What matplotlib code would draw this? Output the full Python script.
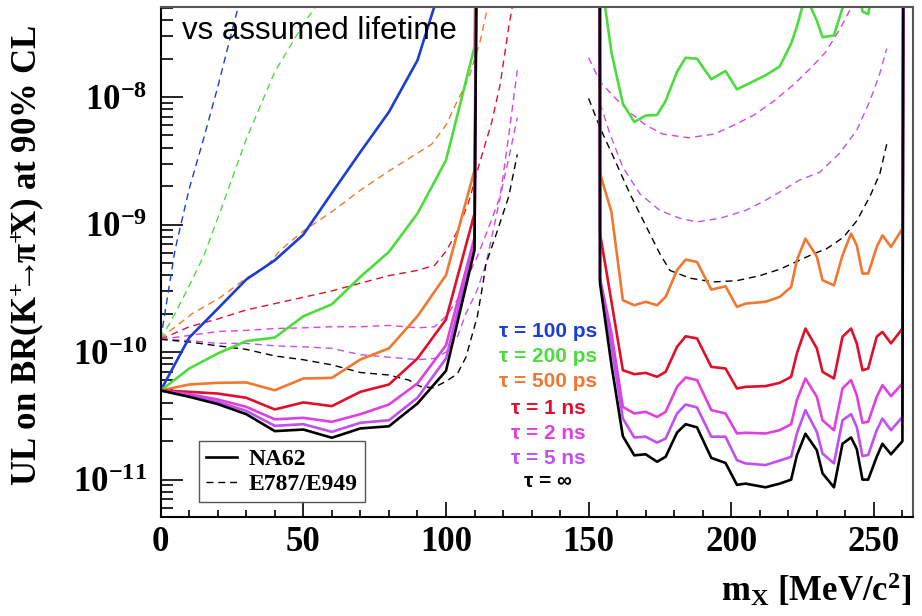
import matplotlib
matplotlib.use("Agg")
import matplotlib.pyplot as plt
from matplotlib.ticker import LogLocator, MultipleLocator, NullFormatter, FixedLocator

plt.rcParams['font.family'] = ['Liberation Serif', 'DejaVu Serif']
plt.rcParams['font.weight'] = 'bold'
plt.rcParams['mathtext.fontset'] = 'dejavuserif'
plt.rcParams['mathtext.default'] = 'regular'

# ---- NA62 upper limits, below the pi0 gap (1e-6 = curve leaves the frame) ----
x_left = [0, 10, 20, 30, 40, 50, 60, 70, 80, 90, 100, 110, 111]
ul_100ps_left = [5.0e-11, 1.30e-10, 2.19e-10, 3.71e-10, 5.25e-10, 8.34e-10, 1.77e-9, 3.71e-9, 7.64e-9, 1.94e-8, 1e-7, 1e-6, 1e-6]
ul_200ps_left = [5.0e-11, 7.43e-11, 9.75e-11, 1.22e-10, 1.30e-10, 1.91e-10, 2.37e-10, 3.89e-10, 6.11e-10, 1.22e-9, 3.19e-9, 2.47e-8, 1e-6]
ul_500ps_left = [5.0e-11, 5.57e-11, 5.74e-11, 5.78e-11, 5.02e-11, 6.21e-11, 6.28e-11, 8.75e-11, 1.07e-10, 1.91e-10, 4.01e-10, 2.67e-9, 1e-6]
ul_1ns_left = [5.0e-11, 4.88e-11, 4.73e-11, 4.38e-11, 3.55e-11, 4.03e-11, 3.77e-11, 4.88e-11, 5.57e-11, 8.91e-11, 1.80e-10, 1.22e-9, 1e-6]
ul_2ns_left = [5.0e-11, 4.68e-11, 4.25e-11, 3.72e-11, 2.97e-11, 3.05e-11, 2.84e-11, 3.26e-11, 3.88e-11, 5.68e-11, 1.13e-10, 7.9e-10, 1e-6]
ul_5ns_left = [5.0e-11, 4.54e-11, 4.07e-11, 3.46e-11, 2.64e-11, 2.72e-11, 2.37e-11, 2.79e-11, 2.92e-11, 4.38e-11, 8.91e-11, 7.1e-10, 1e-6]
ul_inf_left = [5.0e-11, 4.46e-11, 3.91e-11, 3.26e-11, 2.40e-11, 2.47e-11, 2.13e-11, 2.52e-11, 2.62e-11, 3.95e-11, 7.13e-11, 6.3e-10, 1e-6]

# ---- NA62 upper limits, above the pi0 gap ----
x_right = [153.9, 154, 158, 162, 166, 170, 174, 177, 181, 184, 188, 193, 198, 202, 205, 212,
           217, 221, 223, 226, 230, 232, 236, 239, 242, 244, 246, 248, 251, 253, 256, 260, 260.4]
ul_200ps_right = [1e-6, 1e-7, 2.24e-8, 8.9e-9, 6.37e-9, 7.16e-9, 7.24e-9, 9.33e-9, 1.58e-8, 2.03e-8, 2.0e-8,
                  1.38e-8, 1.6e-8, 1.15e-8, 1.24e-8, 1.48e-8, 1.74e-8, 2.63e-8, 3.55e-8, 6.3e-8, 3.98e-8,
                  2.95e-8, 3.04e-8, 5.0e-8, 1e-7, 1e-7, 4.68e-8, 4.47e-8, 1e-7, 1e-7, 1e-7, 1e-7, 1e-6]
ul_500ps_right = [1e-6, 2.51e-9, 1.26e-9, 2.55e-10, 2.33e-10, 2.48e-10, 2.33e-10, 2.71e-10, 4.39e-10, 5.31e-10,
                  5.09e-10, 3.09e-10, 3.28e-10, 2.26e-10, 2.40e-10, 2.48e-10, 2.71e-10, 3.24e-10, 5.25e-10,
                  7.76e-10, 5.62e-10, 3.66e-10, 3.34e-10, 5.74e-10, 8.49e-10, 6.89e-10, 4.13e-10, 4.13e-10,
                  6.68e-10, 8.24e-10, 6.68e-10, 9.29e-10, 1e-6]
ul_1ns_right = [1e-6, 8.5e-10, 2.5e-10, 7.21e-11, 6.71e-11, 6.87e-11, 6.40e-11, 7.00e-11, 1.10e-10, 1.33e-10,
                1.28e-10, 7.66e-11, 7.43e-11, 5.18e-11, 5.34e-11, 5.41e-11, 5.74e-11, 6.40e-11, 9.75e-11,
                1.53e-10, 1.07e-10, 7.00e-11, 6.21e-11, 1.32e-10, 1.53e-10, 1.17e-10, 7.21e-11, 7.43e-11,
                1.32e-10, 1.44e-10, 1.17e-10, 1.53e-10, 1e-6]
ul_2ns_right = [1e-6, 3.78e-10, 1.41e-10, 3.72e-11, 3.30e-11, 3.40e-11, 3.10e-11, 3.40e-11, 5.34e-11, 6.32e-11,
                6.03e-11, 3.51e-11, 3.30e-11, 2.30e-11, 2.33e-11, 2.30e-11, 2.44e-11, 2.72e-11, 4.20e-11,
                6.21e-11, 4.46e-11, 2.92e-11, 2.44e-11, 5.19e-11, 6.03e-11, 4.59e-11, 2.79e-11, 2.84e-11,
                4.46e-11, 5.51e-11, 4.51e-11, 5.68e-11, 1e-6]
ul_5ns_right = [1e-6, 3.66e-10, 1.12e-10, 3.02e-11, 2.14e-11, 2.17e-11, 1.95e-11, 2.10e-11, 3.30e-11, 3.88e-11,
                3.68e-11, 2.17e-11, 2.17e-11, 1.42e-11, 1.34e-11, 1.30e-11, 1.41e-11, 1.51e-11, 2.30e-11,
                3.51e-11, 2.37e-11, 1.60e-11, 1.34e-11, 2.92e-11, 3.26e-11, 2.59e-11, 1.53e-11, 1.56e-11,
                2.44e-11, 3.01e-11, 2.44e-11, 3.10e-11, 1e-6]
ul_inf_right = [1e-6, 3.47e-10, 7.94e-11, 2.19e-11, 1.55e-11, 1.58e-11, 1.38e-11, 1.51e-11, 2.34e-11, 2.72e-11,
                2.57e-11, 1.48e-11, 1.35e-11, 9.1e-12, 9.3e-12, 8.7e-12, 9.3e-12, 1.0e-11, 1.55e-11,
                2.29e-11, 1.70e-11, 1.12e-11, 8.7e-12, 1.91e-11, 2.14e-11, 1.74e-11, 1.0e-11, 1.0e-11,
                1.51e-11, 1.91e-11, 1.58e-11, 2.0e-11, 1e-6]

# ---- E787/E949 upper limits ----
e949_100ps_x = [0, 5, 10, 15, 20, 25, 30]
e949_100ps = [1.26e-10, 6.3e-10, 1.91e-9, 4.68e-9, 1.20e-8, 3.31e-8, 8.9e-8]
e949_200ps_x = [0, 5, 10, 15, 20, 30, 40, 50, 60]
e949_200ps = [1.26e-10, 2.0e-10, 3.31e-10, 5.62e-10, 1.12e-9, 4.68e-9, 1.58e-8, 3.72e-8, 7.9e-8]
e949_500ps_x = [0, 3, 11, 21, 30, 37, 42, 50, 60, 70, 80, 90, 95, 100, 104, 108, 112, 115]
e949_500ps = [1.26e-10, 1.45e-10, 2.0e-10, 2.69e-10, 3.80e-10, 4.68e-10, 6.31e-10, 8.91e-10, 1.26e-9,
              1.86e-9, 2.63e-9, 3.63e-9, 4.27e-9, 6.03e-9, 9.33e-9, 1.41e-8, 2.75e-8, 5.6e-8]
e949_1ns_x = [0, 10, 20, 30, 40, 50, 60, 70, 80, 90, 96, 100, 104, 108, 112, 116, 119, 122, 124]
e949_1ns = [1.26e-10, 1.58e-10, 1.82e-10, 2.14e-10, 2.40e-10, 2.69e-10, 3.02e-10, 3.47e-10, 3.98e-10,
            4.37e-10, 4.79e-10, 6.17e-10, 8.91e-10, 1.51e-9, 3.16e-9, 6.3e-9, 1.26e-8, 3.55e-8, 6.3e-8]
e949_2ns_x = [0, 10, 20, 30, 40, 50, 60, 70, 80, 90, 96, 100, 104, 107, 111, 115, 119, 122, 125]
e949_2ns = [1.26e-10, 1.35e-10, 1.45e-10, 1.48e-10, 1.53e-10, 1.55e-10, 1.58e-10, 1.58e-10, 1.62e-10,
            1.55e-10, 1.58e-10, 1.91e-10, 2.57e-10, 3.63e-10, 5.62e-10, 9.55e-10, 1.66e-9, 5.0e-9, 1.62e-8]
e949_5ns_x = [0, 10, 20, 30, 40, 50, 60, 70, 80, 90, 96, 100, 104, 107, 111, 114, 117, 120, 122.5, 125]
e949_5ns = [1.26e-10, 1.23e-10, 1.17e-10, 1.17e-10, 1.12e-10, 1.10e-10, 1.07e-10, 9.55e-11, 9.12e-11,
            8.71e-11, 8.91e-11, 1.0e-10, 1.32e-10, 2.0e-10, 3.09e-10, 4.9e-10, 1.0e-9, 2.09e-9, 3.72e-9, 6.9e-9]
e949_inf_x = [0, 10, 20, 30, 40, 50, 60, 70, 80, 87, 91, 95.6, 100, 104, 107, 109, 111, 113, 114, 118, 122, 125]
e949_inf = [1.26e-10, 1.20e-10, 1.12e-10, 1.05e-10, 9.33e-11, 8.71e-11, 7.94e-11, 6.92e-11, 6.61e-11,
            6.03e-11, 5.37e-11, 5.25e-11, 5.89e-11, 6.76e-11, 9.12e-11, 1.32e-10, 1.91e-10, 3.47e-10,
            4.9e-10, 8.91e-10, 1.66e-9, 3.55e-9]

e949_2ns_right_x = [150, 154, 159, 165, 170, 176, 185, 194, 201, 208, 215, 222, 228, 233, 238, 242, 245]
e949_2ns_right = [2.04e-8, 1.32e-8, 1.0e-8, 7.41e-9, 6.03e-9, 5.13e-9, 4.79e-9, 5.13e-9, 6.03e-9, 7.24e-9,
                  9.33e-9, 1.26e-8, 1.70e-8, 2.24e-8, 3.39e-8, 5.0e-8, 7.1e-8]
e949_5ns_right_x = [154, 157.5, 162, 168, 175, 182, 188, 196, 205, 212, 219, 224, 231, 238, 244, 248.6, 252, 254.5]
e949_5ns_right = [8.91e-9, 5.13e-9, 2.82e-9, 1.74e-9, 1.29e-9, 1.12e-9, 1.05e-9, 1.12e-9, 1.29e-9, 1.55e-9,
                  1.91e-9, 2.24e-9, 2.57e-9, 3.63e-9, 5.5e-9, 9.33e-9, 1.51e-8, 2.40e-8]
e949_inf_right_x = [150, 154, 158.7, 164.5, 170.3, 175, 178.5, 185.5, 193.7, 201.9, 210.1, 217.1, 222.9,
                    228.8, 233.4, 239.3, 244, 248.6, 252.1, 254.5]
e949_inf_right = [9.77e-9, 5.75e-9, 3.39e-9, 1.74e-9, 9.55e-10, 5.89e-10, 4.37e-10, 3.80e-10, 3.55e-10,
                  3.63e-10, 3.98e-10, 4.47e-10, 5.13e-10, 5.89e-10, 6.46e-10, 7.94e-10, 1.07e-9, 1.66e-9,
                  2.51e-9, 4.27e-9]

y_major = [1e-11, 1e-10, 1e-9, 1e-8]
tau_labels = ['τ = 100 ps', 'τ = 200 ps', 'τ = 500 ps', 'τ = 1 ns', 'τ = 2 ns', 'τ = 5 ns', 'τ = ∞']
colors = ['#1c3cd6', '#4cdc3c', '#f07830', '#e0102c', '#e040e0', '#c050f0', 'black']

fig = plt.figure(figsize=(9.22, 6.16), dpi=100)
ax = fig.add_axes([0.1743, 0.160, 0.8159, 0.828])

dash = (0, (5, 3.5))
dashed_sets = [
    (e949_100ps_x, e949_100ps, 0), (e949_200ps_x, e949_200ps, 1), (e949_500ps_x, e949_500ps, 2),
    (e949_1ns_x, e949_1ns, 3), (e949_2ns_x, e949_2ns, 4), (e949_5ns_x, e949_5ns, 5), (e949_inf_x, e949_inf, 6),
    (e949_2ns_right_x, e949_2ns_right, 4), (e949_5ns_right_x, e949_5ns_right, 5),
    (e949_inf_right_x, e949_inf_right, 6),
]
for xs, ys, ci in dashed_sets:
    ax.plot(xs, ys, color=colors[ci], lw=1.0, linestyle=dash)

left_sets = [ul_100ps_left, ul_200ps_left, ul_500ps_left, ul_1ns_left, ul_2ns_left, ul_5ns_left, ul_inf_left]
right_sets = [None, ul_200ps_right, ul_500ps_right, ul_1ns_right, ul_2ns_right, ul_5ns_right, ul_inf_right]
for i in range(len(left_sets)):
    ax.plot(x_left, left_sets[i], color=colors[i], lw=1.9)
    if right_sets[i] is not None:
        ax.plot(x_right, right_sets[i], color=colors[i], lw=1.9)

ax.set_yscale('log')
ax.set_xlim(0, 263.7)
ax.set_ylim(5.05e-12, 5.05e-8)
ax.xaxis.set_major_locator(MultipleLocator(50))
ax.xaxis.set_minor_locator(MultipleLocator(10))
ax.yaxis.set_major_locator(FixedLocator(y_major))
ax.yaxis.set_minor_locator(LogLocator(base=10, subs=range(2, 10), numticks=20))
ax.yaxis.set_minor_formatter(NullFormatter())
ax.tick_params(axis='y', which='major', direction='in', length=16, width=1.2, labelsize=25, pad=10)
ax.tick_params(axis='y', which='minor', direction='in', length=8.5, width=1.2)
ax.tick_params(axis='x', which='major', direction='in', length=11, width=1.2, labelsize=25, pad=6)
ax.tick_params(axis='x', which='minor', direction='in', length=5, width=1.2)
for s in ax.spines.values():
    s.set_linewidth(1.5)
ax.spines['top'].set_color('#555555')
ax.spines['right'].set_color('#555555')

ax.text(0.028, 0.939, 'vs assumed lifetime', transform=ax.transAxes, fontsize=22.5,
        fontweight='normal', family=['Liberation Sans', 'DejaVu Sans'], va='baseline', ha='left')

tau_y = [0.364, 0.315, 0.266, 0.214, 0.165, 0.116, 0.070]
for lab, c, ty in zip(tau_labels, colors, tau_y):
    ax.text(0.515, ty, lab, transform=ax.transAxes, color=c, fontsize=15, fontweight='bold',
            family=['Liberation Sans', 'DejaVu Sans'], ha='center', va='center')

h1, = ax.plot([], [], color='black', lw=1.9, label='NA62')
h2, = ax.plot([], [], color='black', lw=1.0, linestyle=dash, label='E787/E949')
leg = ax.legend(handles=[h1, h2], loc='lower left', bbox_to_anchor=(0.051, 0.030), borderaxespad=0,
                fontsize=17, fancybox=False, framealpha=1, edgecolor='#555555', borderpad=0.3,
                handlelength=1.3, handletextpad=0.5, labelspacing=0.15)
leg.get_frame().set_linewidth(1.0)

fig.text(27 / 922, 1 - 256 / 616, r'UL on BR(K$^{+}\!\!\!\rightarrow\!\!\pi^{+}\!$X) at 90% CL', rotation=90,
         ha='center', va='center', fontsize=25)
fig.text(912 / 922, 1 - 590 / 616, r'm$_X$ [MeV/c$^2$]', ha='right', va='center', fontsize=25)

fig.savefig('out.png', dpi=100)
